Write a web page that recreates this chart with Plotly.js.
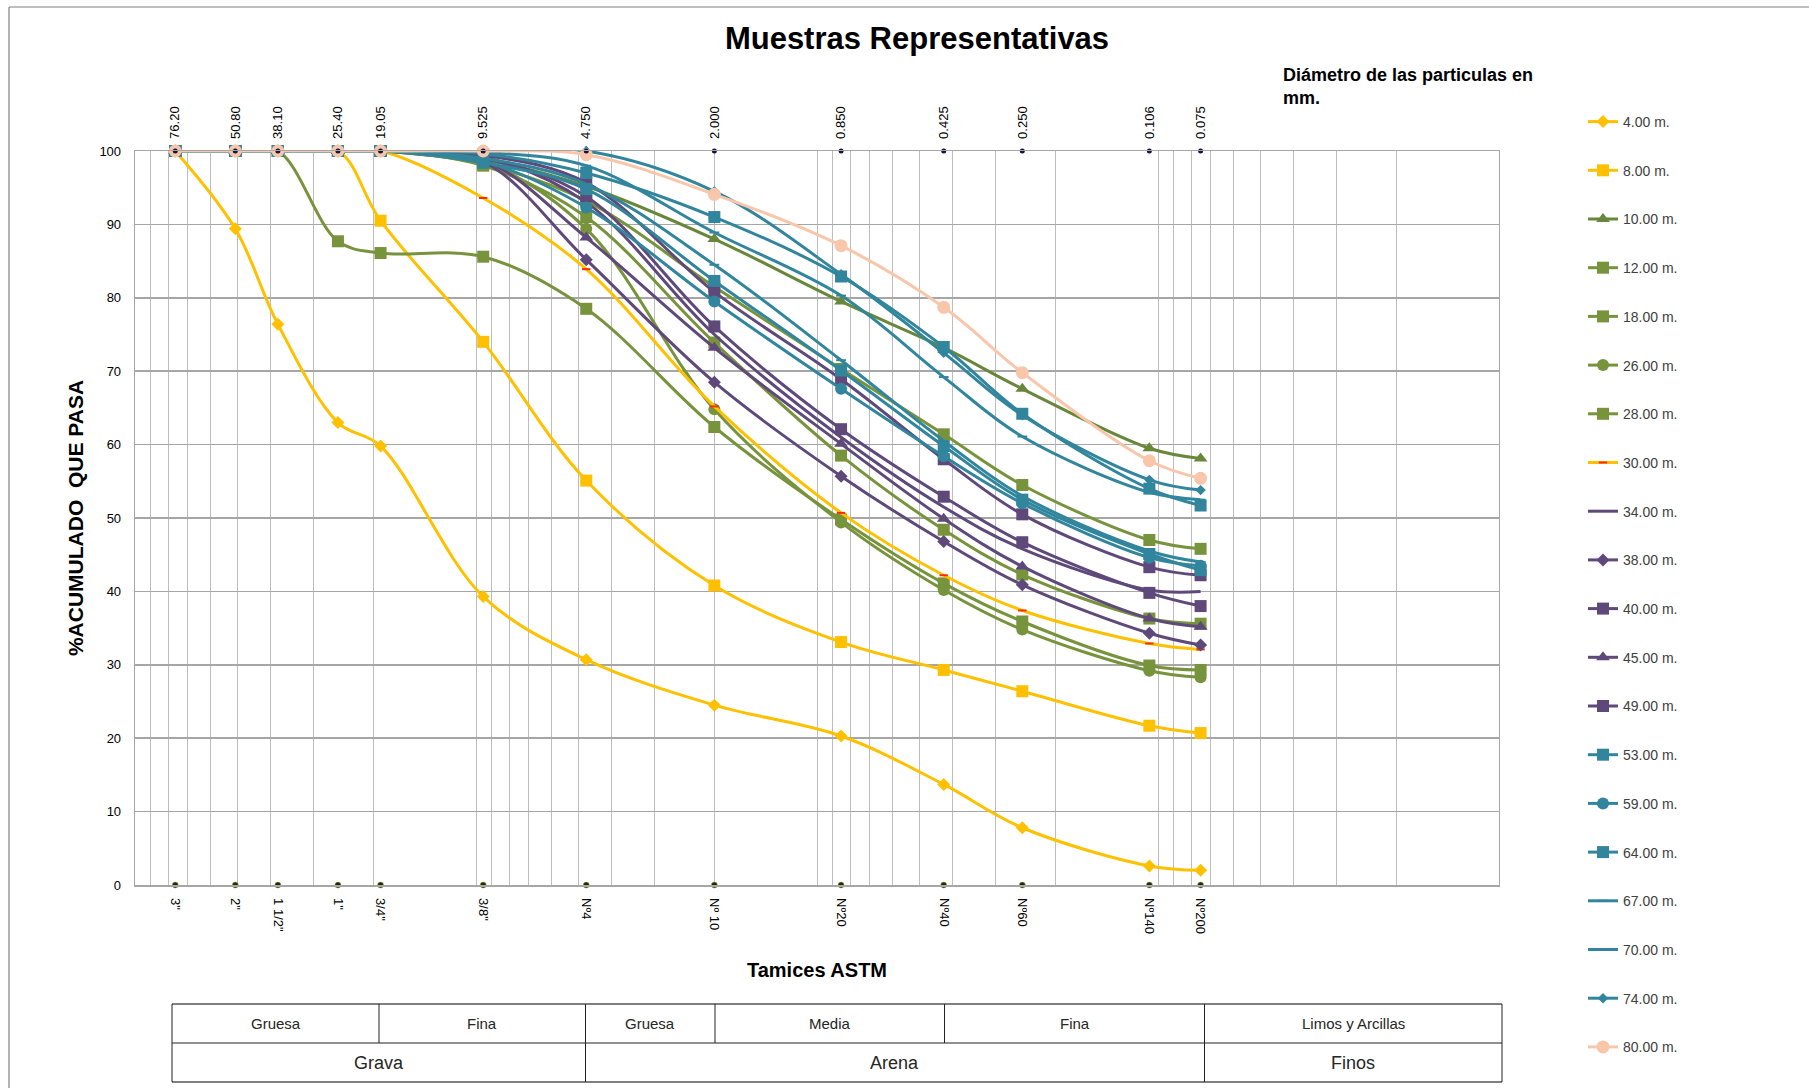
<!DOCTYPE html>
<html><head><meta charset="utf-8">
<script src="https://cdn.plot.ly/plotly-3.0.1.min.js"></script>
<style>html,body{margin:0;padding:0;background:#fff}</style>
</head><body><div id="chart" style="width:1809px;height:1088px"></div>
<script>
// ---------------- DATA ----------------
const sizes = [76.2, 50.8, 38.1, 25.4, 19.05, 9.525, 4.75, 2.0, 0.85, 0.425, 0.25, 0.106, 0.075];
const sizeLabels = ['76.20','50.80','38.10','25.40','19.05','9.525','4.750','2.000','0.850','0.425','0.250','0.106','0.075'];
const sieveNames = ['3"','2"','1 1/2"','1"','3/4"','3/8"','Nº4','Nº 10','Nº20','Nº40','Nº60','Nº140','Nº200'];

const s04 = [100, 89.4, 76.4, 63.0, 59.8, 39.3, 30.7, 24.5, 20.3, 13.7, 7.8, 2.6, 2.0];
const s08 = [100, 100, 100, 100, 90.5, 74.0, 55.1, 40.8, 33.1, 29.3, 26.4, 21.7, 20.7];
const s10 = [100, 100, 100, 100, 100, 98.8, 95.2, 88.0, 79.5, 73.2, 67.6, 59.5, 58.1];
const s12 = [100, 100, 100, 87.7, 86.1, 85.6, 78.5, 62.4, 49.8, 41.1, 35.9, 29.9, 29.3];
const s18 = [100, 100, 100, 100, 100, 98.2, 93.2, 81.5, 70.3, 61.4, 54.5, 47.0, 45.8];
const s26 = [100, 100, 100, 100, 100, 98.5, 89.4, 64.8, 49.4, 40.2, 34.8, 29.2, 28.3];
const s28 = [100, 100, 100, 100, 100, 98.0, 91.0, 73.9, 58.5, 48.4, 42.3, 36.3, 35.6];
const s30 = [100, 100, 100, 100, 100, 93.6, 83.9, 65.2, 50.7, 42.2, 37.4, 32.9, 32.1];
const s34 = [100, 100, 100, 100, 100, 99.2, 93.0, 75.0, 61.0, 51.5, 45.8, 40.2, 40.0];
const s38 = [100, 100, 100, 100, 100, 98.5, 85.2, 68.5, 55.7, 46.8, 40.9, 34.3, 32.7];
const s40 = [100, 100, 100, 100, 100, 99.4, 95.7, 80.8, 68.9, 58.0, 50.5, 43.3, 42.2];
const s45 = [100, 100, 100, 100, 100, 98.8, 88.2, 73.2, 60.1, 49.9, 43.4, 36.3, 35.2];
const s49 = [100, 100, 100, 100, 100, 99.0, 93.8, 76.1, 62.1, 52.9, 46.7, 39.8, 38.0];
const s53 = [100, 100, 100, 100, 100, 98.4, 94.8, 82.3, 70.1, 59.8, 52.5, 45.1, 42.9];
const s59 = [100, 100, 100, 100, 100, 98.6, 92.3, 79.5, 67.6, 58.4, 52.0, 44.6, 43.5];
const s64 = [100, 100, 100, 100, 100, 99.6, 97.0, 91.0, 82.9, 73.3, 64.2, 54.0, 51.7];
const s67 = [100, 100, 100, 100, 100, 99.0, 95.5, 84.5, 71.5, 60.5, 53.0, 45.5, 44.0];
const s70 = [100, 100, 100, 100, 100, 99.8, 98.0, 88.9, 80.3, 69.2, 61.1, 53.5, 52.5];
const s74 = [100, 100, 100, 100, 100, 100, 100, 94.5, 83.2, 72.5, 64.0, 55.2, 53.8];
const s80 = [100, 100, 100, 100, 100, 100, 99.5, 94.1, 87.1, 78.7, 69.8, 57.8, 55.4];

const seriesNames = ['4.00 m.','8.00 m.','10.00 m.','12.00 m.','18.00 m.','26.00 m.','28.00 m.','30.00 m.','34.00 m.','38.00 m.',
  '40.00 m.','45.00 m.','49.00 m.','53.00 m.','59.00 m.','64.00 m.','67.00 m.','70.00 m.','74.00 m.','80.00 m.'];
const seriesValues = [s04,s08,s10,s12,s18,s26,s28,s30,s34,s38,s40,s45,s49,s53,s59,s64,s67,s70,s74,s80];

const gravelSand = ['Gruesa','Fina','Gruesa','Media','Fina','Limos y Arcillas'];
const groups = ['Grava','Arena','Finos'];

// ---------------- STYLES ----------------
const YEL='#FFC000', GRN='#77933C', GRN2='#68873A', PUR='#5F497A', TEAL='#31859C', PEACH='#F8C6AA';
const styles = [
  {c:YEL, s:'diamond', z:10},
  {c:YEL, s:'square', z:12},
  {c:GRN2, s:'triangle-up', z:12},
  {c:GRN, s:'square', z:12},
  {c:GRN, s:'square', z:12},
  {c:GRN, s:'circle', z:12},
  {c:GRN, s:'square', z:12},
  {c:YEL, s:'line-ew', z:6, mc:'#FF2A00'},
  {c:PUR, s:null},
  {c:PUR, s:'diamond', z:10},
  {c:PUR, s:'square', z:12},
  {c:PUR, s:'triangle-up', z:12},
  {c:PUR, s:'square', z:12},
  {c:TEAL, s:'square', z:12},
  {c:TEAL, s:'circle', z:12},
  {c:TEAL, s:'square', z:12},
  {c:TEAL, s:'line-ew', z:7, mc:TEAL},
  {c:TEAL, s:'line-ew', z:7, mc:TEAL},
  {c:TEAL, s:'diamond', z:8},
  {c:PEACH, s:'circle', z:13}
];

const traces = seriesValues.map((vals, i) => {
  const st = styles[i];
  const t = {
    type:'scatter', x:sizes, y:vals, name:seriesNames[i],
    legendgroup:'g'+i, cliponaxis:false,
    mode: st.s ? 'lines+markers' : 'lines',
    line:{color:st.c, width:3, shape:'spline', smoothing:1}
  };
  if (st.s) {
    if (st.s === 'line-ew') t.marker = {symbol:'line-ew', size:st.z, line:{color:st.mc, width:2}};
    else t.marker = {symbol:st.s, size:st.z, color:st.c, line:{width:0}};
  }
  return t;
});

// sieve reference dots (top and bottom)
traces.push({type:'scatter', x:sizes, y:sizes.map(()=>100), xaxis:'x2', yaxis:'y', mode:'markers',
  marker:{size:5, color:'#14143A'}, showlegend:false, cliponaxis:false, hoverinfo:'skip'});
traces.push({type:'scatter', x:sizes, y:sizes.map(()=>0), mode:'markers',
  marker:{size:6, color:'#1E2A0E', line:{color:'#A8B040', width:0.5}}, showlegend:false, cliponaxis:false, hoverinfo:'skip'});

// ---------------- LAYOUT ----------------
const L=135, R=1499, T=151, B=885, W=R-L, H=B-T;
const px = v => (v - L)/W;
const py = v => (B - v)/H;

const gridVals = [];
for (let e=-2; e<=1; e++) for (let m=1; m<=9; m++) gridVals.push(+(m*Math.pow(10,e)).toPrecision(6));
gridVals.push(100);

const FONT = 'Liberation Sans, Arial, sans-serif';

const shapes = [];
const line = (x0,y0,x1,y1,c,w) => shapes.push({type:'line', xref:'paper', yref:'paper', x0:px(x0), y0:py(y0), x1:px(x1), y1:py(y1), line:{color:c||'#000', width:w||1}});
// outer border
line(9,7,1809,7,'#7F7F7F',1.2);
line(9,7,9,1088,'#7F7F7F',1.2);
// table
const tX0=172, tX1=1502, tY0=1004, tY1=1043, tY2=1082;
line(tX0,tY0,tX1,tY0,'#555',1.5);
line(tX0,tY1,tX1,tY1,'#222',1);
line(tX0,tY2,tX1,tY2,'#555',1.5);
line(tX0,tY0,tX0,tY2,'#222',1);
line(tX1,tY0,tX1,tY2,'#222',1);
const row1Div = [379, 585.5, 715, 944.5, 1204.5];
row1Div.forEach(d => line(d,tY0,d,tY1,'#222',1));
[585.5, 1204.5].forEach(d => line(d,tY1,d,tY2,'#222',1));

const annotations = [];
const r1Edges = [tX0].concat(row1Div).concat([tX1]);
gravelSand.forEach((t,i) => annotations.push({xref:'paper', yref:'paper', x:px((r1Edges[i]+r1Edges[i+1])/2), y:py((tY0+tY1)/2),
  text:t, showarrow:false, xanchor:'center', yanchor:'middle', font:{family:FONT, size:15, color:'#262626'}}));
const r2Edges = [tX0, 585.5, 1204.5, tX1];
groups.forEach((t,i) => annotations.push({xref:'paper', yref:'paper', x:px((r2Edges[i]+r2Edges[i+1])/2), y:py((tY1+tY2)/2),
  text:t, showarrow:false, xanchor:'center', yanchor:'middle', font:{family:FONT, size:18, color:'#262626'}}));
annotations.push({xref:'paper', yref:'paper', x:px(1281), y:py(63), xanchor:'left', yanchor:'top', align:'left',
  text:'<b>Diámetro de las particulas en<br>mm.</b>', showarrow:false, font:{family:FONT, size:18, color:'#000'}});

const layout = {
  width:1809, height:1088,
  paper_bgcolor:'#fff', plot_bgcolor:'#fff',
  margin:{l:L, r:1809-R, t:T, b:1088-B, pad:0},
  showlegend:true,
  title:{text:'<b>Muestras Representativas</b>', x:917/1809, xref:'container', xanchor:'center',
    y:1-38/1088, yref:'container', yanchor:'middle', font:{family:FONT, size:31, color:'#000'}},
  xaxis:{type:'log', range:[2,-2], tickmode:'array', tickvals:sizes, ticktext:sieveNames, tickangle:90,
    showgrid:false, zeroline:false, showline:true, linecolor:'#A6A6A6', linewidth:1.5, ticks:'',
    ticklabelstandoff:9, tickfont:{family:FONT, size:13, color:'#000'},
    minor:{tickmode:'array', tickvals:gridVals, showgrid:true, gridcolor:'#BDBDBD', gridwidth:1, ticks:''},
    title:{text:'<b>Tamices ASTM</b>', standoff:30, font:{family:FONT, size:20, color:'#000'}}},
  xaxis2:{type:'log', range:[2,-2], overlaying:'x', side:'top', anchor:'y', tickmode:'array', tickvals:sizes, ticktext:sizeLabels,
    tickangle:-90, showgrid:false, zeroline:false, showline:true, linecolor:'#A6A6A6', linewidth:1.5, ticks:'',
    ticklabelstandoff:8, tickfont:{family:FONT, size:13, color:'#000'}},
  yaxis:{range:[0,100], dtick:10, tick0:0, showgrid:true, gridcolor:'#A6A6A6', gridwidth:1.5, zeroline:false,
    showline:true, mirror:true, linecolor:'#A6A6A6', linewidth:1.3, ticks:'', ticklabelstandoff:10,
    tickfont:{family:FONT, size:13, color:'#000'},
    title:{text:'<b>%ACUMULADO\u00a0 QUE PASA</b>', standoff:10, font:{family:FONT, size:21, color:'#000'}}},
  legend:{x:px(1583), y:py(106), xanchor:'left', yanchor:'top', traceorder:'grouped', tracegroupgap:27.5,
    maxheight:1000, font:{family:FONT, size:14, color:'#404040'}, bgcolor:'rgba(0,0,0,0)', itemwidth:30},
  shapes:shapes, annotations:annotations
};

Plotly.newPlot('chart', traces, layout, {displayModeBar:false, staticPlot:true});
</script></body></html>
